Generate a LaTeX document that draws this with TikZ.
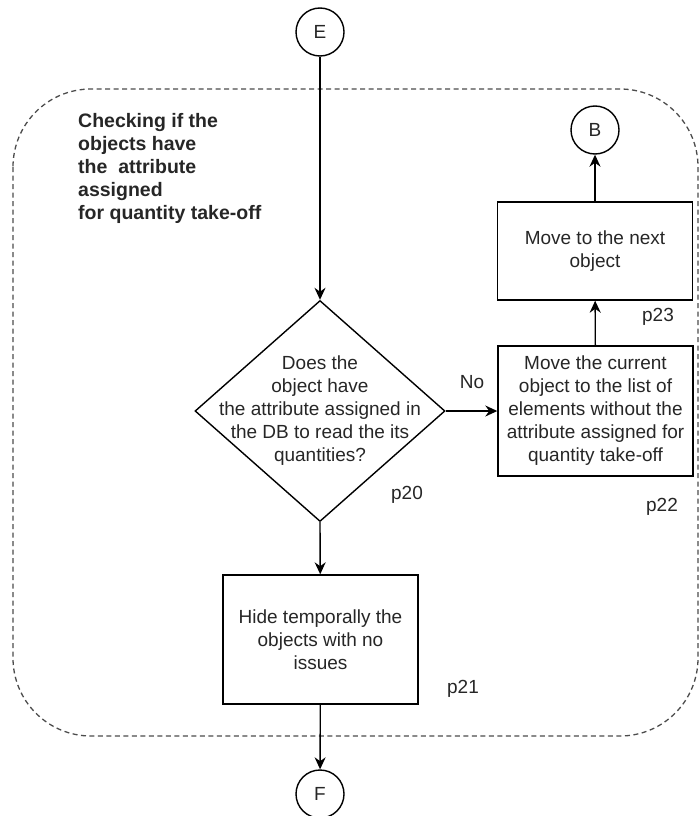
\documentclass[tikz,border=0pt]{standalone}
\usepackage{fontspec}
\setmainfont{Liberation Sans}
\usetikzlibrary{shapes.geometric,arrows.meta}

\begin{document}
\begin{tikzpicture}[x=1pt,y=-1pt,
    every node/.style={font=\fontsize{19}{23}\selectfont, text=black!85},
    conn/.style={circle, draw, line width=1.4pt, minimum size=48pt, inner sep=0pt},
    procbox/.style={rectangle, draw, line width=1.4pt, align=center, minimum width=195pt},
    decision/.style={diamond, draw, line width=1.4pt, minimum width=250pt, minimum height=221pt, inner sep=0pt},
    lbl/.style={inner sep=0pt},
    flow/.style={line width=1.4pt, -{Stealth[length=12pt,width=11pt]}}]
    \useasboundingbox (0,0) rectangle (699,816);
                % dashed group
                \draw[black!70, line width=1.3pt, dash pattern=on 5pt off 3.5pt, rounded corners=78pt] (13,89) rectangle (698,736);
                \node[lbl, anchor=north west, align=left, font=\fontsize{19.5}{23}\selectfont\bfseries] (title) at (78,113)
                    {Checking if the\\objects have\\the\ \ attribute\\assigned\\for quantity take-off};

                \node[conn] (E) at (320,32) {E};
                \node[conn] (B) at (595,130) {B};
                \node[conn] (F) at (320,794) {F};

                \node[decision] (d20) at (320,411) {};
                \node[lbl, align=center] (d20txt) at (320,411)
                    {Does the\\object have\\the attribute assigned in\\the DB to read the its\\quantities?};
                \node[procbox, minimum height=130pt] (b22) at (595.5,411)
                    {Move the current\\object to the list of\\elements without the\\attribute assigned for\\quantity take-off};
                \node[procbox, minimum height=98pt] (b23) at (595,251) {Move to the next\\object};
                \node[procbox, minimum height=129pt] (b21) at (320.5,639.5)
                    {Hide temporally the\\objects with no\\issues};

                \node[lbl] (p20) at (407,495) {p20};
                \node[lbl] (p21) at (463,689) {p21};
                \node[lbl] (p22) at (662,507) {p22};
                \node[lbl] (p23) at (658,317) {p23};
                \node[lbl] (no) at (472,382) {No};

                \draw[flow] (E) -- (d20.north);
                \draw[flow] (d20.east) -- (b22.west);
                \draw[flow] (b22) -- (b23);
                \draw[flow] (b23) -- (B);
                \draw[flow] (d20.south) -- (b21);
                \draw[flow] (b21) -- (F);
            \end{tikzpicture}
\end{document}
